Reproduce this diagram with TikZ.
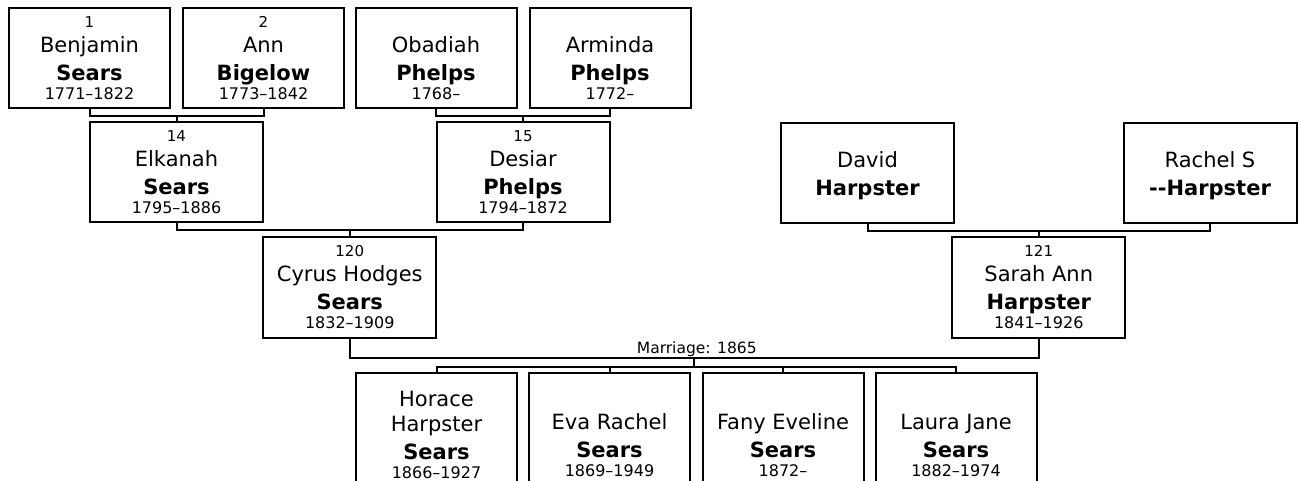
\documentclass[tikz,border=0pt]{standalone}
\usepackage{fontspec}
\setmainfont{DejaVu Sans}
\usetikzlibrary{calc}
\newcommand{\pnum}[1]{{\fontsize{15}{15}\selectfont\vphantom{1}#1}}
\newcommand{\pdates}[1]{{\fontsize{16}{16}\selectfont\vphantom{1}#1}}
\tikzset{line width=2pt,
  person/.style={draw,line width=2pt,inner sep=0pt,minimum width=161pt,
    minimum height=100pt,align=center,font=\fontsize{21}{28}\selectfont},
  wideperson/.style={person,minimum width=173pt},
  child/.style={person,minimum height=124pt},
  link/.style={draw,line width=2pt},
  tag/.style={font=\fontsize{15.5}{16}\selectfont,inner sep=1pt}}

\begin{document}
\begin{tikzpicture}[x=1pt,y=-1pt]
\useasboundingbox (0,0) rectangle (1301,481);
\clip (0,0) rectangle (1301,481);
% great-grandparents
\node[person] (ben) at (89.5,58) {\pnum{1}\\[-3pt]Benjamin\\\textbf{Sears}\\[-9pt]\pdates{1771--1822}};
\node[person] (ann) at (263.5,58) {\pnum{2}\\[-3pt]Ann\\\textbf{Bigelow}\\[-9pt]\pdates{1773--1842}};
\node[person] (oba) at (436,58) {\pnum{}\\[-3pt]Obadiah\\\textbf{Phelps}\\[-9pt]\pdates{1768--}};
\node[person] (arm) at (610,58) {\pnum{}\\[-3pt]Arminda\\\textbf{Phelps}\\[-9pt]\pdates{1772--}};
% grandparents
\node[wideperson] (elk) at (176.5,172.5) {\pnum{14}\\[-3pt]Elkanah\\\textbf{Sears}\\[-9pt]\pdates{1795--1886}};
\node[wideperson] (des) at (523,172.5) {\pnum{15}\\[-3pt]Desiar\\\textbf{Phelps}\\[-9pt]\pdates{1794--1872}};
\node[wideperson] (dav) at (867.5,173) {\pnum{}\\[-3pt]David\\\textbf{Harpster}\\[-9pt]\pdates{}};
\node[wideperson] (rac) at (1210,173) {\pnum{}\\[-3pt]Rachel S\\\textbf{-{}-Harpster}\\[-9pt]\pdates{}};
% parents
\node[wideperson] (cyr) at (349.75,287.5) {\pnum{120}\\[-3pt]Cyrus Hodges\\\textbf{Sears}\\[-9pt]\pdates{1832--1909}};
\node[wideperson] (sar) at (1038.75,287.5) {\pnum{121}\\[-3pt]Sarah Ann\\\textbf{Harpster}\\[-9pt]\pdates{1841--1926}};
% children
\node[child] (hor) at (436.5,435) {Horace\\[-3pt]Harpster\\\textbf{Sears}\\[-9pt]\pdates{1866--1927}};
\node[child] (eva) at (609.5,435) {\pnum{}\\[-3pt]Eva Rachel\\\textbf{Sears}\\[-9pt]\pdates{1869--1949}};
\node[child] (fan) at (783,435) {\pnum{}\\[-3pt]Fany Eveline\\\textbf{Sears}\\[-9pt]\pdates{1872--}};
\node[child] (lau) at (956,435) {\pnum{}\\[-3pt]Laura Jane\\\textbf{Sears}\\[-9pt]\pdates{1882--1974}};
% family bars
\coordinate (f14) at ($(ben.south)!.5!(ann.south)+(0,7)$);
\coordinate (f15) at ($(oba.south)!.5!(arm.south)+(0,7)$);
\coordinate (f120) at ($(elk.south)!.5!(des.south)+(0,7)$);
\coordinate (f121) at ($(dav.south)!.5!(rac.south)+(0,7)$);
\coordinate (mar) at ($(cyr.south)!.5!(sar.south)+(0,19.5)$);
\coordinate (kids) at ($(mar)+(0,9)$);
\draw[link] (ben.south) |- (f14) -| (ann.south);
\draw[link] (f14) -- (elk.north);
\draw[link] (oba.south) |- (f15) -| (arm.south);
\draw[link] (f15) -- (des.north);
\draw[link] (elk.south) |- (f120) -| (des.south);
\draw[link] (f120) -- (cyr.north);
\draw[link] (dav.south) |- (f121) -| (rac.south);
\draw[link] (f121) -- (sar.north);
\draw[link] (cyr.south) |- (mar) -| (sar.south);
\node[tag,above,xshift=2.5pt] (mlabel) at (mar) {Marriage: 1865};
\draw[link] (mar) -- (kids);
\draw[link] (hor.north) |- (kids) -| (lau.north);
\draw[link] (eva.north) -- (eva.north |- kids);
\draw[link] (fan.north) -- (fan.north |- kids);
\end{tikzpicture}
\end{document}
